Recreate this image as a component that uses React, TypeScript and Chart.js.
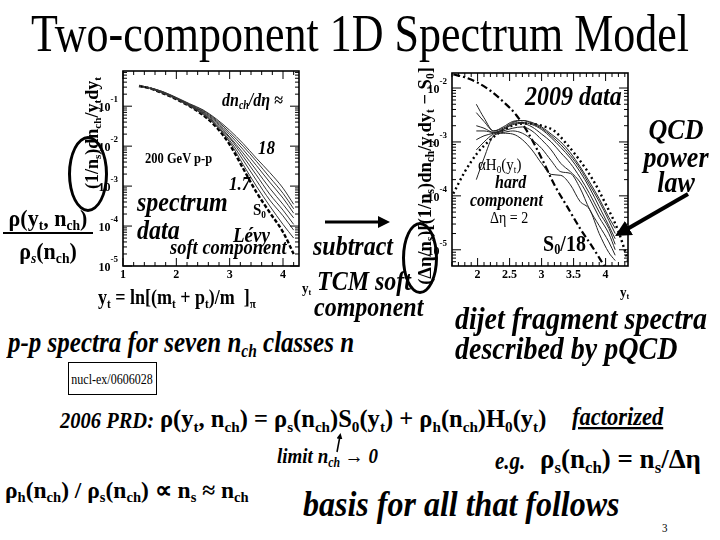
import React, { useEffect, useRef } from "react";
import { Chart, registerables } from "chart.js";
Chart.register(...registerables);

// ---------- LEFT PLOT: 200 GeV p-p spectra, seven n_ch classes ----------
const leftYt = [1.3, 1.5, 1.75, 2.0, 2.25, 2.5, 2.75, 3.0, 3.25, 3.5, 3.75, 4.0, 4.2];
const leftLevyS0 = [0.32, 0.28, 0.21, 0.15, 0.1, 0.06, 0.03, 0.011, 0.0028, 7.1e-4, 2.2e-4, 7.1e-5, 2.0e-5];
const leftNchA = [0.32, 0.28, 0.21, 0.15, 0.1, 0.062, 0.032, 0.0126, 0.0035, 1.0e-3, 3.2e-4, 1.1e-4, 5.0e-5];
const leftNchB = [0.32, 0.28, 0.22, 0.155, 0.102, 0.065, 0.034, 0.014, 0.0045, 1.4e-3, 4.5e-4, 1.8e-4, 7.9e-5];
const leftNchC = [0.32, 0.28, 0.22, 0.16, 0.105, 0.068, 0.036, 0.016, 0.0056, 1.9e-3, 6.3e-4, 2.5e-4, 1.1e-4];
const leftNchD = [0.32, 0.28, 0.22, 0.16, 0.107, 0.071, 0.039, 0.017, 0.0068, 2.5e-3, 8.9e-4, 3.5e-4, 1.6e-4];
const leftNchE = [0.33, 0.29, 0.22, 0.16, 0.11, 0.074, 0.042, 0.0195, 0.0083, 3.3e-3, 1.26e-3, 5.0e-4, 2.1e-4];
const leftNchF = [0.33, 0.29, 0.23, 0.16, 0.112, 0.078, 0.045, 0.022, 0.01, 4.2e-3, 1.66e-3, 6.6e-4, 2.7e-4];
const leftNchG = [0.33, 0.29, 0.23, 0.166, 0.115, 0.081, 0.048, 0.025, 0.0117, 5.0e-3, 2.2e-3, 8.9e-4, 3.5e-4];
const leftClasses = [leftNchA, leftNchB, leftNchC, leftNchD, leftNchE, leftNchF, leftNchG];
const leftXTickLabels = [1, 2, 3, 4];
const leftYDecades = [-1, -2, -3, -4, -5];

// ---------- RIGHT PLOT: hard component, 2009 data ----------
const rightS0Yt = [1.62, 1.8, 2.0, 2.2, 2.4, 2.6, 2.8, 3.0, 3.2, 3.4, 3.6, 3.8, 3.98];
const rightS0Over18 = [0.0178, 0.0158, 0.0126, 0.0089, 0.0056, 0.0032, 0.0014, 5.0e-4, 1.6e-4, 6.3e-5, 2.5e-5, 1.1e-5, 5.0e-6];
const rightH0Yt = [1.62, 1.8, 2.0, 2.2, 2.4, 2.6, 2.8, 3.0, 3.2, 3.4, 3.6, 3.8, 4.0, 4.2, 4.35];
const rightAlphaH0 = [1.1e-4, 2.8e-4, 6.3e-4, 1.1e-3, 1.66e-3, 2.1e-3, 2.2e-3, 2.0e-3, 1.6e-3, 8.9e-4, 4.5e-4, 2.0e-4, 7.1e-5, 2.2e-5, 6.3e-6];
const rightDataYt = [1.98, 2.1, 2.25, 2.4, 2.55, 2.7, 2.85, 3.0, 3.15, 3.3, 3.45, 3.6, 3.75, 3.9, 4.05, 4.15];
const rightHardA = [2.0e-4, 5.0e-4, 1.3e-3, 1.45e-3, 1.4e-3, 1.1e-3, 7.1e-4, 4.0e-4, 2.5e-4, 2.4e-4, 1.6e-4, 7.9e-5, 5.6e-5, 2.0e-5, 8.9e-6, 6.3e-6];
const rightHardB = [7.1e-4, 1.0e-3, 1.4e-3, 1.5e-3, 1.6e-3, 1.45e-3, 1.1e-3, 7.6e-4, 4.5e-4, 2.8e-4, 2.6e-4, 1.4e-4, 5.6e-5, 2.8e-5, 1.4e-5, 7.9e-6];
const rightHardC = [1.1e-3, 1.3e-3, 1.45e-3, 1.6e-3, 1.8e-3, 1.9e-3, 1.6e-3, 1.1e-3, 7.1e-4, 4.0e-4, 2.8e-4, 1.8e-4, 8.9e-5, 4.0e-5, 2.0e-5, 1.0e-5];
const rightHardD = [1.6e-3, 1.6e-3, 1.5e-3, 1.7e-3, 2.1e-3, 2.2e-3, 1.9e-3, 1.4e-3, 1.0e-3, 6.3e-4, 4.0e-4, 2.2e-4, 1.1e-4, 5.0e-5, 2.5e-5, 1.26e-5];
const rightHardE = [2.0e-3, 1.8e-3, 1.5e-3, 1.7e-3, 2.2e-3, 2.3e-3, 2.1e-3, 1.7e-3, 1.2e-3, 7.9e-4, 5.0e-4, 2.8e-4, 1.4e-4, 6.3e-5, 2.8e-5, 1.6e-5];
const rightHardF = [5.0e-3, 2.8e-3, 1.6e-3, 1.8e-3, 2.3e-3, 2.5e-3, 2.2e-3, 1.8e-3, 1.3e-3, 8.9e-4, 5.6e-4, 3.2e-4, 1.6e-4, 7.9e-5, 3.5e-5, 2.0e-5];
const rightHardG = [3.5e-3, 2.4e-3, 1.6e-3, 1.9e-3, 2.4e-3, 2.5e-3, 2.3e-3, 1.9e-3, 1.4e-3, 1.0e-3, 6.3e-4, 3.5e-4, 1.8e-4, 8.9e-5, 4.0e-5, 2.5e-5];
const rightClasses = [rightHardA, rightHardB, rightHardC, rightHardD, rightHardE, rightHardF, rightHardG];
const rightXTickLabels = ["2", "2.5", "3", "3.5", "4"];
const rightYDecades = [-2, -3, -4, -5];

const SERIF = '"Liberation Serif", "Times New Roman", serif';

const pts = (xs: number[], ys: number[]) => xs.map((x, i) => ({ x, y: ys[i] }));

function framePlugin(spec: {
  xMinorStep: number;
  xMajorStep: number;
  xLabels: (string | number)[];
  decades: number[];
}) {
  return {
    id: "frame",
    afterDraw(chart: any) {
      const { ctx, chartArea: a } = chart;
      const xs = chart.scales.x;
      const ys = chart.scales.y;
      ctx.save();
      ctx.strokeStyle = "#000";
      ctx.lineWidth = 1;
      const seg = (x1: number, y1: number, x2: number, y2: number) => {
        ctx.beginPath();
        ctx.moveTo(x1, y1);
        ctx.lineTo(x2, y2);
        ctx.stroke();
      };
      const x0 = xs.min, x1 = xs.max;
      const n = Math.round((x1 - x0) / spec.xMinorStep) + 2;
      const start = Math.ceil(x0 / spec.xMinorStep - 1e-6) * spec.xMinorStep;
      for (let k = 0; k < n; k++) {
        const v = start + k * spec.xMinorStep;
        if (v > x1 + 1e-6) break;
        const major = Math.abs(v / spec.xMajorStep - Math.round(v / spec.xMajorStep)) < 1e-6;
        const L = major ? 8 : 4;
        const px = xs.getPixelForValue(v);
        seg(px, a.bottom, px, a.bottom - L);
        seg(px, a.top, px, a.top + L);
      }
      for (let e = -7; e <= 1; e++) {
        for (let m = 1; m <= 9; m++) {
          const v = m * Math.pow(10, e);
          if (v < ys.min || v > ys.max) continue;
          const py = ys.getPixelForValue(v);
          const L = m === 1 ? 9 : 4;
          seg(a.left, py, a.left + L, py);
          seg(a.right, py, a.right - L, py);
        }
      }
      ctx.lineWidth = 1.6;
      ctx.strokeRect(a.left, a.top, a.right - a.left, a.bottom - a.top);
      ctx.fillStyle = "#000";
      ctx.font = `bold 12px ${SERIF}`;
      ctx.textAlign = "center";
      ctx.textBaseline = "top";
      spec.xLabels.forEach((lab) => {
        const px = xs.getPixelForValue(Number(lab));
        ctx.fillText(String(lab), px, a.bottom + 3);
      });
      spec.decades.forEach((d) => {
        const py = ys.getPixelForValue(Math.pow(10, d));
        ctx.font = `bold 9px ${SERIF}`;
        ctx.textAlign = "right";
        ctx.textBaseline = "alphabetic";
        const sup = String(d);
        const sw = ctx.measureText(sup).width;
        ctx.fillText(sup, a.left - 5, py - 4);
        ctx.font = `bold 12px ${SERIF}`;
        ctx.fillText("10", a.left - 5 - sw, py + 5);
      });
      ctx.restore();
    },
  };
}

function leftConfig(): any {
  const datasets: any[] = leftClasses.map((c) => ({
    data: pts(leftYt, c),
    borderColor: "#333",
    borderWidth: 1,
    pointRadius: 0,
    cubicInterpolationMode: "monotone",
    segment: { borderDash: (s: any) => (s.p0DataIndex === 0 ? [2, 2] : undefined) },
  }));
  datasets.push({
    data: pts(leftYt, leftLevyS0),
    borderColor: "#000",
    borderWidth: 2.4,
    borderDash: [4, 2],
    pointRadius: 0,
    cubicInterpolationMode: "monotone",
  });
  return {
    type: "line",
    data: { datasets },
    options: {
      animation: false,
      responsive: false,
      devicePixelRatio: 1,
      events: [],
      layout: { padding: { left: 43, top: 11, right: 21, bottom: 24 } },
      plugins: { legend: { display: false }, tooltip: { enabled: false }, title: { display: false } },
      scales: {
        x: { type: "linear", min: 1, max: 4.3, display: false },
        y: { type: "logarithmic", min: 1e-5, max: 0.76, display: false },
      },
    },
    plugins: [framePlugin({ xMinorStep: 0.2, xMajorStep: 1, xLabels: leftXTickLabels, decades: leftYDecades })],
  };
}

function rightConfig(): any {
  const datasets: any[] = rightClasses.map((c) => ({
    data: pts(rightDataYt, c),
    borderColor: "#222",
    borderWidth: 1,
    pointRadius: 0,
    cubicInterpolationMode: "monotone",
  }));
  datasets.push({
    data: pts(rightS0Yt, rightS0Over18),
    borderColor: "#000",
    borderWidth: 2.2,
    borderDash: [7, 3, 2, 3],
    pointRadius: 0,
    cubicInterpolationMode: "monotone",
  });
  datasets.push({
    data: pts(rightH0Yt, rightAlphaH0),
    borderColor: "#000",
    borderWidth: 2.4,
    borderDash: [2, 3],
    pointRadius: 0,
    cubicInterpolationMode: "monotone",
  });
  return {
    type: "line",
    data: { datasets },
    options: {
      animation: false,
      responsive: false,
      devicePixelRatio: 1,
      events: [],
      layout: { padding: { left: 42, top: 11, right: 22, bottom: 26 } },
      plugins: { legend: { display: false }, tooltip: { enabled: false }, title: { display: false } },
      scales: {
        x: { type: "linear", min: 1.6, max: 4.35, display: false },
        y: { type: "logarithmic", min: 5.0e-6, max: 0.019, display: false },
      },
    },
    plugins: [framePlugin({ xMinorStep: 0.1, xMajorStep: 0.5, xLabels: rightXTickLabels, decades: rightYDecades })],
  };
}

function ChartBox({ x, y, w, h, make }: any) {
  const ref = useRef<HTMLCanvasElement>(null);
  useEffect(() => {
    const chart = new Chart(ref.current as HTMLCanvasElement, make());
    return () => chart.destroy();
  }, []);
  return (
    <canvas
      ref={ref}
      width={w}
      height={h}
      style={{ position: "absolute", left: x, top: y, width: w, height: h }}
    />
  );
}

const Sub = ({ children }: any) => (
  <span style={{ fontSize: "0.62em", position: "relative", top: "0.28em" }}>{children}</span>
);

function T({ x, y, size, b, i, s = 1.15, c, u, children, style }: any) {
  const top = y - 0.838 * size * s;
  return (
    <div
      style={{
        position: "absolute",
        left: x,
        top,
        fontFamily: SERIF,
        fontSize: size,
        fontWeight: b ? "bold" : "normal",
        fontStyle: i ? "italic" : "normal",
        lineHeight: 1,
        whiteSpace: "nowrap",
        transform: `${c ? "translateX(-50%) " : ""}scaleY(${s})`,
        transformOrigin: "top left",
        textDecoration: u ? "underline" : "none",
        color: "#000",
        ...style,
      }}
    >
      {children}
    </div>
  );
}

function VLabel({ cx, cy, size, children }: any) {
  return (
    <div
      style={{
        position: "absolute",
        left: cx,
        top: cy,
        fontFamily: SERIF,
        fontSize: size,
        fontWeight: "bold",
        lineHeight: 1,
        whiteSpace: "nowrap",
        transform: "translate(-50%, -50%) rotate(-90deg)",
        color: "#000",
      }}
    >
      {children}
    </div>
  );
}

function Ellipse({ x, y, w, h }: any) {
  return (
    <div
      style={{
        position: "absolute",
        left: x,
        top: y,
        width: w,
        height: h,
        border: "3px solid #000",
        borderRadius: "50%",
        boxSizing: "border-box",
      }}
    />
  );
}

export default function App() {
  useEffect(() => {
    document.body.style.margin = "0";
  }, []);
  return (
    <div
      style={{
        position: "fixed",
        left: 0,
        top: 0,
        width: 720,
        height: 540,
        background: "#fff",
        overflow: "hidden",
      }}
    >
      <T x={360} y={52} size={44} s={1.2} c>
        Two-component 1D Spectrum Model
      </T>

      <ChartBox x={80} y={60} w={240} h={230} make={leftConfig} />
      <ChartBox x={410} y={62} w={240} h={230} make={rightConfig} />

      {/* left plot annotations */}
      <VLabel cx={92} cy={133} size={18}>
        (1/n<Sub>s</Sub>)dn<Sub>ch</Sub>/y<Sub>t</Sub>dy<Sub>t</Sub>
      </VLabel>
      <Ellipse x={68} y={136} w={40} h={76} />
      <T x={222} y={106} size={16} b i>
        dn<Sub>ch</Sub>/dη ≈
      </T>
      <T x={258} y={154} size={17} b i>18</T>
      <T x={145} y={163} size={12.5} b>200 GeV p-p</T>
      <T x={229} y={190} size={17} b i>1.7</T>
      <T x={137} y={211} size={24} b i>spectrum</T>
      <T x={137} y={239} size={24} b i>data</T>
      <T x={253} y={215} size={15} b>
        S<Sub>0</Sub>
      </T>
      <T x={233} y={242} size={19} b i>Lévy</T>
      <T x={170} y={255} size={18.5} b i>soft component</T>

      {/* fraction at left */}
      <T x={48} y={226} size={22} b c s={1.05}>
        ρ(y<Sub>t</Sub>, n<Sub>ch</Sub>)
      </T>
      <div style={{ position: "absolute", left: 3, top: 232, width: 90, height: 2, background: "#000" }} />
      <T x={48} y={259} size={22} b c s={1.05}>
        ρ<Sub><i>s</i></Sub>(n<Sub>ch</Sub>)
      </T>

      <T x={302} y={293} size={13} b>
        y<Sub>t</Sub>
      </T>
      <T x={98} y={304} size={18} b>
        y<Sub>t</Sub> = ln[(m<Sub>t</Sub> + p<Sub>t</Sub>)/m&nbsp;&nbsp;]<Sub>π</Sub>
      </T>

      <T x={313} y={255} size={24} b i>subtract</T>
      <T x={317} y={290} size={24} b i>TCM soft</T>
      <T x={314} y={316} size={24} b i>component</T>

      <T x={8} y={352} size={25} b i>
        p-p spectra for seven n<Sub>ch</Sub> classes n
      </T>
      <div
        style={{
          position: "absolute",
          left: 68,
          top: 362,
          width: 89,
          height: 33,
          border: "1.5px solid #000",
          boxSizing: "border-box",
        }}
      />
      <T x={112} y={384} size={12} s={1.3} c>nucl-ex/0606028</T>

      {/* right plot annotations */}
      <VLabel cx={425} cy={176} size={18.5}>
        (Δη/n<Sub>s</Sub>)[(1/n<Sub>s</Sub>)dn<Sub>ch</Sub>/y<Sub>t</Sub>dy<Sub>t</Sub> − S<Sub>0</Sub>]
      </VLabel>
      <Ellipse x={402} y={222} w={36} h={72} />
      <T x={525} y={105} size={24} b i>2009 data</T>
      <T x={676} y={140} size={26} b i c>QCD</T>
      <T x={676} y={168} size={26} b i c>power</T>
      <T x={676} y={193} size={26} b i c>law</T>
      <T x={478} y={170} size={15}>
        αH<Sub>0</Sub>(y<Sub>t</Sub>)
      </T>
      <T x={495} y={188} size={16} b i>hard</T>
      <T x={470} y={206} size={16} b i>component</T>
      <T x={490} y={223} size={14}>Δη = 2</T>
      <T x={543} y={250} size={20} b>
        S<Sub>0</Sub>/18
      </T>
      <T x={620} y={297} size={13} b>
        y<Sub>t</Sub>
      </T>
      <T x={455} y={330} size={28} b i>dijet fragment spectra</T>
      <T x={455} y={360} size={28} b i>described by pQCD</T>

      {/* bottom */}
      <T x={60} y={428} size={20.5} b i>2006 PRD:</T>
      <T x={160} y={428} size={24.5} b s={1.0}>
        ρ(y<Sub>t</Sub>, n<Sub>ch</Sub>) = ρ<Sub>s</Sub>(n<Sub>ch</Sub>)S<Sub>0</Sub>(y<Sub>t</Sub>) + ρ<Sub>h</Sub>(n<Sub>ch</Sub>)H<Sub>0</Sub>(y<Sub>t</Sub>)
      </T>
      <T x={572} y={426} size={22.5} b i u>factorized</T>
      <T x={277} y={463} size={19} b i>
        limit n<Sub>ch</Sub> → 0
      </T>
      <T x={495} y={469} size={21} b i>e.g.</T>
      <T x={540} y={469} size={27} b s={1.0}>
        ρ<Sub>s</Sub>(n<Sub>ch</Sub>) = n<Sub>s</Sub>/Δη
      </T>
      <T x={5} y={499} size={23.5} b s={1.0}>
        ρ<Sub>h</Sub>(n<Sub>ch</Sub>) / ρ<Sub>s</Sub>(n<Sub>ch</Sub>) ∝ n<Sub>s</Sub> ≈ n<Sub>ch</Sub>
      </T>
      <T x={303} y={516} size={32} b i>basis for all that follows</T>
      <T x={662} y={533} size={11}>3</T>

      <svg
        width={720}
        height={540}
        style={{ position: "absolute", left: 0, top: 0, pointerEvents: "none" }}
      >
        <defs>
          <marker id="ah" markerWidth="4" markerHeight="4" refX="2" refY="2" orient="auto">
            <path d="M0,0 L4,2 L0,4 z" fill="#000" />
          </marker>
        </defs>
        <line x1={325} y1={222} x2={384} y2={222} stroke="#000" strokeWidth={3} markerEnd="url(#ah)" />
        <line x1={688} y1={194} x2={622} y2={232} stroke="#000" strokeWidth={4} markerEnd="url(#ah)" />
        <line x1={337} y1={452} x2={340} y2={436} stroke="#000" strokeWidth={1.5} markerEnd="url(#ah)" />
      </svg>
    </div>
  );
}
